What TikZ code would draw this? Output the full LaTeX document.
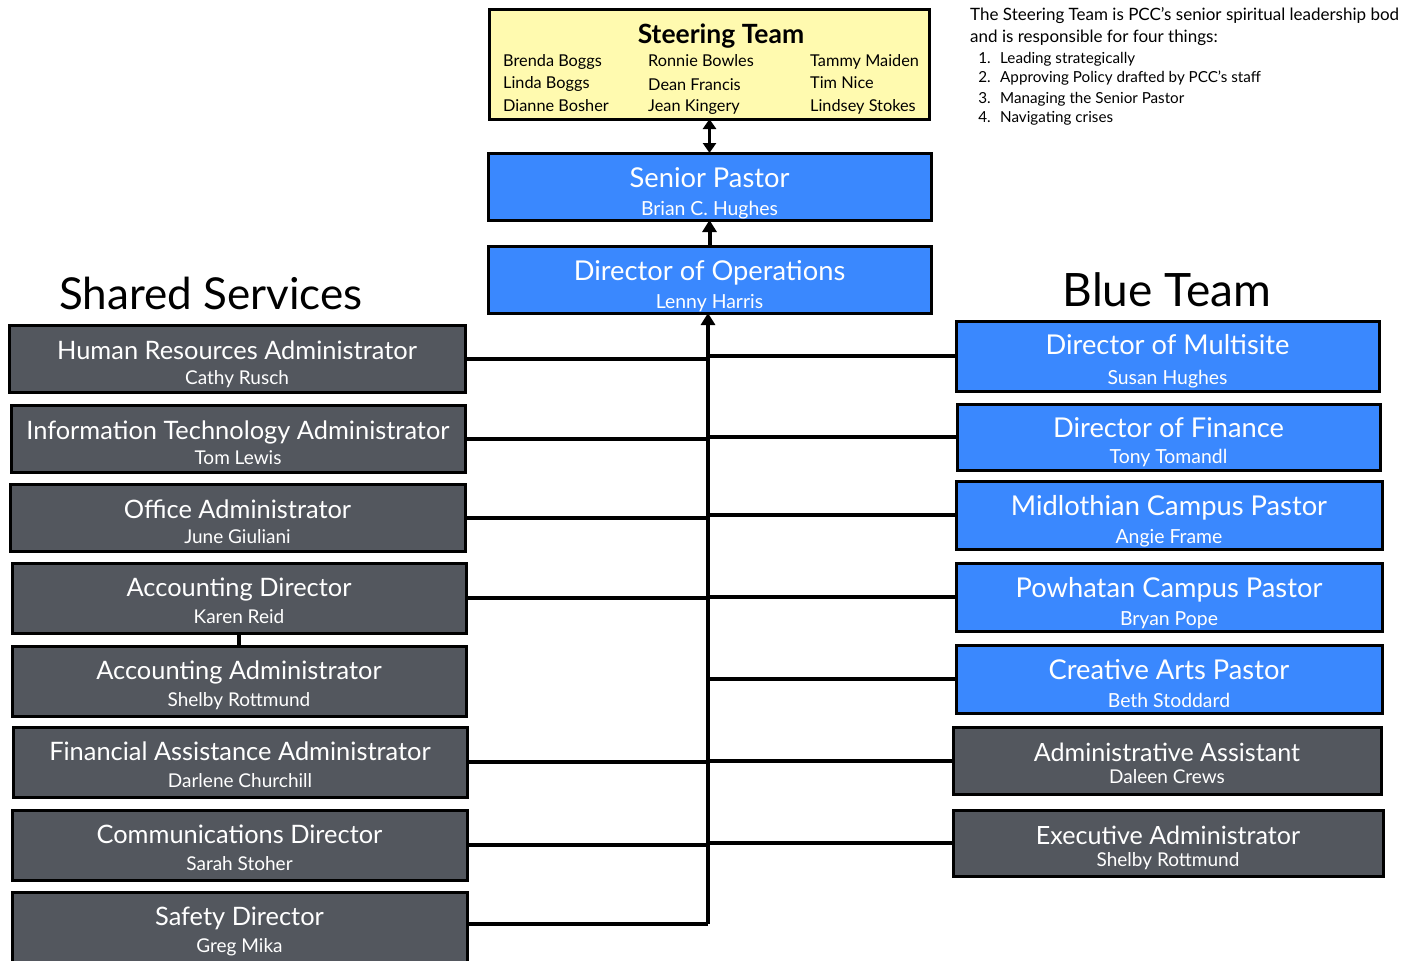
\documentclass[tikz,border=0pt]{standalone}
\usepackage{fontspec}
\setmainfont{Lato}
\usetikzlibrary{arrows.meta}
\definecolor{boxblue}{HTML}{3A88FE}
\definecolor{boxgray}{HTML}{53575E}
\definecolor{steer}{HTML}{FFFAAF}
\tikzset{
  box/.style={draw=black, line width=3pt, rectangle, inner sep=0pt, outer sep=0pt},
  bluebox/.style={box, fill=boxblue},
  graybox/.style={box, fill=boxgray},
  steerbox/.style={box, fill=steer},
  wtxt/.style={text=white, anchor=base, inner sep=0pt},
  btxt/.style={text=black, anchor=base west, inner sep=0pt, font=\fontsize{16.3}{18}\selectfont},
  conn/.style={line width=4pt, black},
  tip/.style={-{Triangle[width=14pt,length=12pt]}},
}
\def\toff{34}\def\noff{60}\def\tsize{24}\def\nsize{18}
\newcommand{\obox}[8]{%
  \node[#2, minimum width={#5-#3}, minimum height={#6-#4}, anchor=north west] (#1) at (#3,-#4) {};
  \node[wtxt, font=\fontsize{\tsize}{\tsize}\selectfont] (#1-t) at ([yshift=-\toff pt]#1.north) {#7};
  \node[wtxt, font=\fontsize{\nsize}{\nsize}\selectfont] (#1-n) at ([yshift=-\noff pt]#1.north) {#8};
}
\begin{document}
\begin{tikzpicture}[x=1pt,y=1pt]
\useasboundingbox (0,0) rectangle (1401,-961);
% Steering team
\node[steerbox, minimum width=440, minimum height=110, anchor=north west] (steer) at (489,-9) {};
\node[anchor=base, inner sep=0pt, font=\bfseries\fontsize{26.5}{26.5}\selectfont] (steer-t) at (721,-43) {Steering Team};
\node[btxt] (s1) at (503,-66) {Brenda Boggs};
\node[btxt] (s2) at (503,-88) {Linda Boggs};
\node[btxt] (s3) at (503,-111) {Dianne Bosher};
\node[btxt] (s4) at (648,-66) {Ronnie Bowles};
\node[btxt] (s5) at (648,-90) {Dean Francis};
\node[btxt] (s6) at (648,-111) {Jean Kingery};
\node[btxt] (s7) at (810,-66) {Tammy Maiden};
\node[btxt] (s8) at (810,-88) {Tim Nice};
\node[btxt] (s9) at (810,-111) {Lindsey Stokes};
% description
\node[anchor=base west, inner sep=0pt, font=\fontsize{17}{17}\selectfont] (d1) at (970,-20) {The Steering Team is PCC’s senior spiritual leadership bod};
\node[anchor=base west, inner sep=0pt, font=\fontsize{17}{17}\selectfont] (d2) at (970,-42) {and is responsible for four things:};
\foreach \n/\t/\y in {1/Leading strategically/63, 2/Approving Policy drafted by PCC’s staff/82, 3/Managing the Senior Pastor/103, 4/Navigating crises/122}{
  \node[anchor=base east, inner sep=0pt, font=\fontsize{15.2}{16}\selectfont] (dn\n) at (991,-\y) {\n.};
  \node[anchor=base west, inner sep=0pt, font=\fontsize{15.2}{16}\selectfont] (dt\n) at (1000,-\y) {\t};
}
% headings
\node[anchor=base, inner sep=0pt, font=\fontsize{44}{44}\selectfont] (shared) at (211,-309) {Shared Services};
\node[anchor=base, inner sep=0pt, font=\fontsize{46}{46}\selectfont] (blue) at (1167,-306) {Blue Team};
% centre column
\def\toff{34}\def\noff{62}\def\tsize{27.3}\def\nsize{19.4}
\obox{senior}{bluebox}{488}{153}{931}{220}{Senior Pastor}{Brian C. Hughes}
\obox{ops}{bluebox}{488}{246}{931}{313}{Director of Operations}{Lenny Harris}
% right blue
\def\toff{33}\def\noff{63}
\obox{multi}{bluebox}{956}{321}{1379}{391}{Director of Multisite}{Susan Hughes}
\def\toff{33}\def\noff{59}
\obox{fin}{bluebox}{957}{404}{1380}{470}{Director of Finance}{Tony Tomandl}
\def\toff{34}\def\noff{62}
\obox{midl}{bluebox}{956}{481}{1382}{549}{Midlothian Campus Pastor}{Angie Frame}
\obox{pow}{bluebox}{956}{563}{1382}{631}{Powhatan Campus Pastor}{Bryan Pope}
\obox{arts}{bluebox}{956}{645}{1382}{713}{Creative Arts Pastor}{Beth Stoddard}
% right gray
\def\toff{34}\def\noff{56}\def\tsize{25.1}\def\nsize{19}
\obox{asst}{graybox}{953}{727}{1381}{794}{Administrative Assistant}{Daleen Crews}
\obox{exec}{graybox}{953}{810}{1383}{876}{Executive Administrator}{Shelby Rottmund}
% left gray
\def\toff{34}\def\noff{59}\def\tsize{25.4}\def\nsize{19}
\obox{hr}{graybox}{9}{325}{465}{392}{Human Resources Administrator}{Cathy Rusch}
\obox{it}{graybox}{11}{405}{465}{472}{Information Technology Administrator}{Tom Lewis}
\obox{office}{graybox}{10}{484}{465}{551}{Office Administrator}{June Giuliani}
\def\toff{33}\def\noff{60}
\obox{accdir}{graybox}{12}{563}{466}{633}{Accounting Director}{Karen Reid}
\obox{accadm}{graybox}{12}{646}{466}{716}{Accounting Administrator}{Shelby Rottmund}
\obox{finas}{graybox}{13}{727}{467}{797}{Financial Assistance Administrator}{Darlene Churchill}
\obox{comm}{graybox}{12}{810}{467}{880}{Communications Director}{Sarah Stoher}
\obox{safety}{graybox}{12}{892}{467}{968}{Safety Director}{Greg Mika}
% connectors
\coordinate (tb) at (708,-924);
\draw[conn, tip] (tb) -- (ops.south -| tb);
\draw[conn, tip] (ops.north) -- (senior.south);
\draw[line width=3pt, {Triangle[width=13pt,length=10pt]}-{Triangle[width=13pt,length=10pt]}] (steer.south -| senior.north) -- (senior.north);
\foreach \b in {hr,it,office,accdir,finas,comm}{
  \draw[conn] (\b.east) -- (\b.east -| tb);
}
\draw[conn] (safety.east |- tb) -- (tb);
\foreach \b in {multi,fin,midl,pow,arts,asst,exec}{
  \draw[conn] (\b.west) -- (\b.west -| tb);
}
\draw[conn] (accdir.south) -- (accadm.north);
\end{tikzpicture}
\end{document}
